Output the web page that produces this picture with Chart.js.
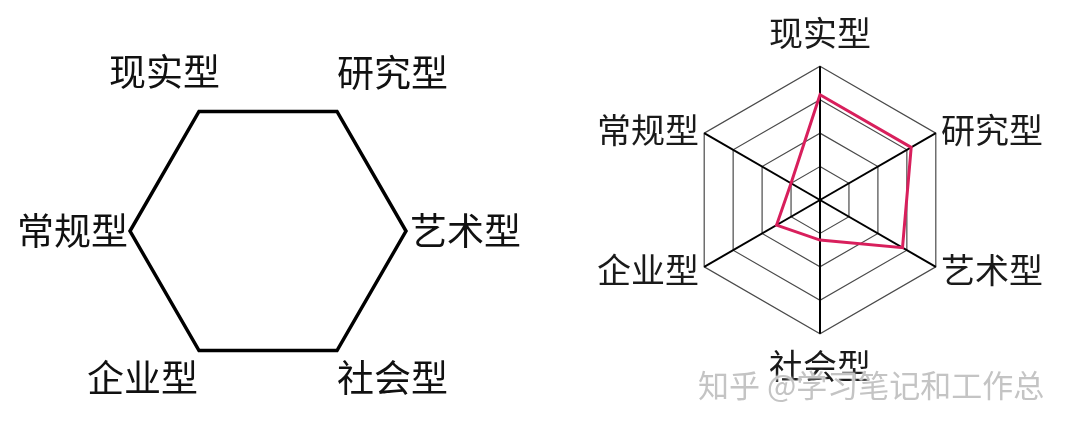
<!DOCTYPE html>
<html lang="zh">
<head>
<meta charset="utf-8">
<script src="https://cdn.jsdelivr.net/npm/chart.js@4.4.1/dist/chart.umd.min.js"></script>
<style>
    html, body {
        margin: 0;
        padding: 0;
        width: 1080px;
        height: 428px;
        overflow: hidden;
        background: #fff;
    }
    #hex {
        position: absolute;
        left: 0;
        top: -56px;
    }
    #radar {
        position: absolute;
        left: 578px;
        top: -23px;
    }
    .watermark {
        position: absolute;
        left: 698px;
        top: 368px;
        font-family: "Noto Sans CJK SC", sans-serif;
        font-size: 31px;
        line-height: 31px;
        color: #c4c4c4;
        white-space: nowrap;
        text-shadow: 0 0 2px #fff, 0 0 3px #fff;
    }
</style>
</head>
<body>
<canvas id="hex" width="540" height="506"></canvas>
<canvas id="radar" width="490" height="446"></canvas>
<div class="watermark">知乎 @学习笔记和工作总</div>

<script>
// Holland types, clockwise from the top
const categories = ["现实型", "研究型", "艺术型", "社会型", "企业型", "常规型"];
// left: plain hexagon, every type equal
const hexValues = [1, 1, 1, 1, 1, 1];
// right: one person's profile, scale 0-4
const scoreValues = [3.15, 3.15, 2.85, 1.2, 1.5, 1.0];
const scoreMin = 0;
const scoreMax = 4;

const cjk = '"Noto Sans CJK SC", sans-serif';

// label nudges (padding from the outer ring, line box height)
const hexLabelPad = [-42, 0, 4, 0, 2, 2];
const hexLabelLift = [151, 78, 0, 55, 52, 0];
const radarLabelPad = [33, 6, 6, 32, 6, 6];

const hexChart = new Chart(document.getElementById("hex"), {
    type: "radar",
    data: {
        labels: categories,
        datasets: [
            {
                data: hexValues,
                borderColor: "#000",
                borderWidth: 3.5,
                fill: false,
                pointRadius: 0,
                pointHoverRadius: 0,
            },
        ],
    },
    options: {
        responsive: false,
        animation: false,
        events: [],
        layout: {
            padding: { left: 16, right: 18, top: 0, bottom: 0 },
        },
        plugins: {
            legend: { display: false },
            tooltip: { enabled: false },
        },
        scales: {
            r: {
                min: 0,
                max: 1,
                startAngle: -30,
                grid: { display: false },
                angleLines: { display: false },
                ticks: { display: false },
                pointLabels: {
                    color: "#111",
                    padding: (c) => hexLabelPad[c.index],
                    font: (c) => ({
                        family: cjk,
                        size: 37,
                        lineHeight: hexLabelLift[c.index] + "px",
                    }),
                },
            },
        },
    },
});

const radarChart = new Chart(document.getElementById("radar"), {
    type: "radar",
    data: {
        labels: categories,
        datasets: [
            {
                data: scoreValues,
                borderColor: "#d81f5c",
                borderWidth: 3,
                fill: false,
                pointRadius: 0,
                pointHoverRadius: 0,
            },
        ],
    },
    options: {
        responsive: false,
        animation: false,
        events: [],
        layout: {
            padding: { left: 20, right: 24, top: 0, bottom: 0 },
        },
        plugins: {
            legend: { display: false },
            tooltip: { enabled: false },
        },
        scales: {
            r: {
                min: scoreMin,
                max: scoreMax,
                ticks: { display: false, stepSize: 1 },
                grid: { color: "#4a4a4a", lineWidth: 1.2 },
                angleLines: { color: "#000", lineWidth: 2 },
                pointLabels: {
                    color: "#1a1a1a",
                    padding: (c) => radarLabelPad[c.index],
                    font: {
                        family: cjk,
                        size: 34,
                        lineHeight: "0px",
                    },
                },
            },
        },
    },
});
</script>
</body>
</html>
